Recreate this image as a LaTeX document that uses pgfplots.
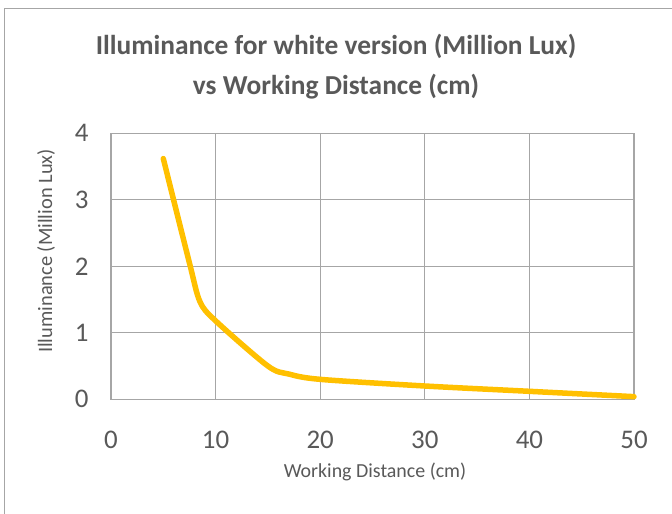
\documentclass[border=0pt]{standalone}
\usepackage{pgfplots}
\pgfplotsset{compat=1.18}
\usepackage{fontspec}
\setmainfont{Carlito}
\definecolor{txt}{HTML}{595959}
\definecolor{grd}{HTML}{A6A6A6}
\definecolor{ln}{HTML}{FFC000}
\begin{document}
\begin{tikzpicture}
\useasboundingbox (0bp,0bp) rectangle (672bp,514bp);
\fill[white] (0bp,0bp) rectangle (672bp,514bp);
\draw[grd, line width=1.5bp] (4.5bp,0bp) -- (4.5bp,505.5bp) -- (672bp,505.5bp);
\begin{axis}[at={(111bp,114.7bp)}, anchor=south west, scale only axis,
  width=523bp, height=266bp,
  xmin=0, xmax=50, ymin=0, ymax=4,
  xtick={0,10,20,30,40,50}, ytick={0,1,2,3,4},
  grid=major, major grid style={grd, line width=1.3bp},
  axis line style={grd, line width=1.3bp},
  major tick length=0pt,
  /pgf/number format/assume math mode=true,
  tick label style={font=\fontsize{27}{32}\selectfont, text=txt},
  xticklabel style={yshift=-28bp},
  yticklabel style={xshift=-19bp},
  clip=false]
\addplot[ln, line width=5.5bp, smooth, tension=0.5, line cap=round, line join=round] coordinates {
(5,3.62) (7.5,2.05) (8.5,1.47) (10,1.18) (15,0.5) (17,0.38) (20,0.3) (30,0.2) (40,0.12) (50,0.04)
};
\end{axis}
\node[anchor=base, text=txt, font=\fontsize{27.5}{34}\selectfont\bfseries] at (336bp,459bp) {Illuminance for white version (Million Lux)};
\node[anchor=base, text=txt, font=\fontsize{27.5}{34}\selectfont\bfseries] at (336bp,419bp) {vs Working Distance (cm)};
\node[anchor=base, text=txt, font=\fontsize{20}{24}\selectfont] at (375bp,37bp) {Working Distance (cm)};
\node[anchor=base, rotate=90, text=txt, font=\fontsize{20.5}{24}\selectfont] at (52bp,263bp) {Illuminance (Million Lux)};
\end{tikzpicture}
\end{document}
